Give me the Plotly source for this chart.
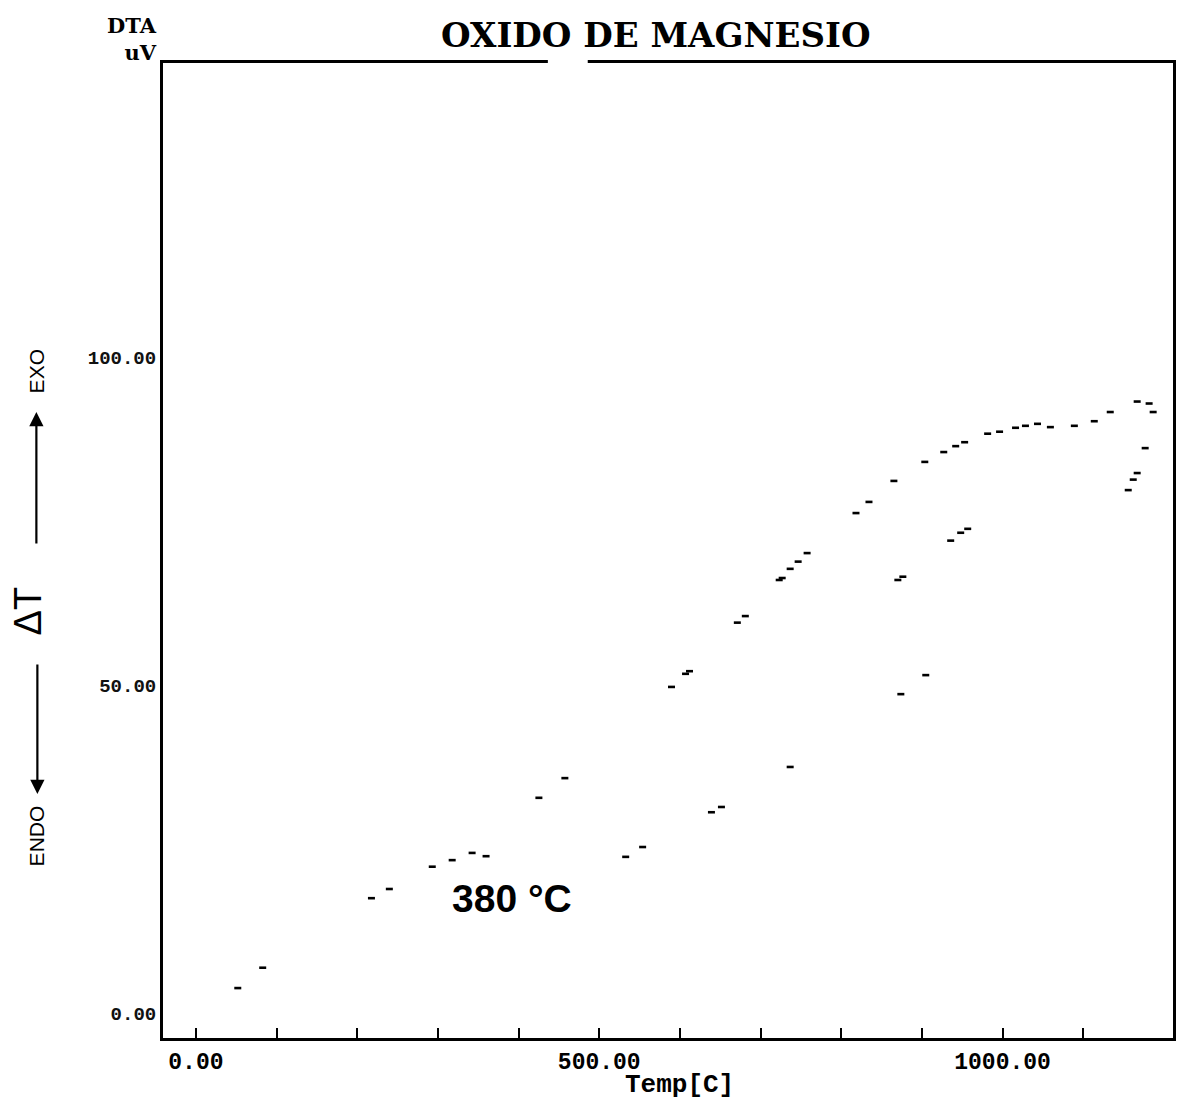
import plotly.graph_objects as go

# ---- data (Temp in C, DTA in uV) ----
heat_temp = [51.9, 82.8, 217.6, 239.8, 293.0, 317.7, 342.4, 359.7, 425.2, 457.4,
             589.6, 607.0, 611.9, 671.2, 681.1, 723.1, 726.8, 736.7, 746.6, 757.7,
             818.3, 834.4, 865.3, 903.6, 927.1, 941.9, 953.0, 981.5, 996.3, 1016.1,
             1028.4, 1043.3, 1059.3, 1089.0, 1113.7, 1133.5, 1166.9, 1181.7, 1186.7,
             1176.8, 1166.9, 1162.0, 1155.8]
heat_dta = [3.8, 6.9, 17.5, 18.9, 22.3, 23.3, 24.4, 23.9, 32.8, 35.8,
            49.7, 51.7, 52.1, 59.5, 60.5, 66.0, 66.3, 67.7, 68.8, 70.1,
            76.2, 77.9, 81.1, 84.0, 85.5, 86.4, 87.0, 88.3, 88.6, 89.2,
            89.5, 89.8, 89.3, 89.5, 90.2, 91.6, 93.2, 92.9, 91.6,
            86.1, 82.3, 81.3, 79.7]

cool_temp = [532.8, 553.8, 639.1, 651.5, 736.7, 873.9, 904.8, 870.2, 876.4, 935.7, 948.1, 956.8]
cool_dta = [23.8, 25.3, 30.6, 31.4, 37.5, 48.6, 51.5, 66.0, 66.5, 72.0, 73.2, 73.8]

x_tick_vals = [0, 100, 200, 300, 400, 500, 600, 700, 800, 900, 1000, 1100]
x_tick_text = ["0.00", "", "", "", "", "500.00", "", "", "", "", "1000.00", ""]
y_tick_vals = [0, 50, 100]
y_tick_text = ["0.00", "50.00", "100.00"]

peak_label = "380 °C"
peak_temp = 392
peak_dta = 17.5

# page has an 8px body margin; work in page pixels, convert to figure pixels
OFF = 8
W, H = 1170, 1093
RIGHT_PAGE = 1176
L = 163 - OFF
T = 63 - OFF
R = W - (RIGHT_PAGE - OFF)
B = H - (1038 - OFF)
PW, PH = W - L - R, H - T - B


def px(xp):
    return (xp - OFF - L) / PW


def py(yp):
    return (H - B - (yp - OFF)) / PH


fig = go.Figure()
mk = dict(symbol="line-ew", size=5, color="black", line=dict(color="black", width=2.6))
fig.add_trace(go.Scatter(x=heat_temp, y=heat_dta, mode="markers", marker=mk, showlegend=False))
fig.add_trace(go.Scatter(x=cool_temp, y=cool_dta, mode="markers", marker=mk, showlegend=False))

fig.update_layout(
    width=W, height=H,
    margin=dict(l=L, r=R, t=T, b=B),
    paper_bgcolor="white", plot_bgcolor="white",
    showlegend=False,
)

fig.update_xaxes(
    range=[-40.8, 1211.3], showgrid=False, zeroline=False,
    showline=True, linecolor="black", linewidth=3, mirror=True,
    tickvals=x_tick_vals, ticktext=x_tick_text,
    ticks="inside", ticklen=10, tickwidth=2, tickcolor="black",
    tickfont=dict(family="Liberation Mono", size=23, color="black", weight="bold"),
)
fig.update_yaxes(
    range=[-3.81, 144.8], showgrid=False, zeroline=False,
    showline=True, linecolor="black", linewidth=3, mirror=True,
    tickvals=y_tick_vals, ticktext=y_tick_text, ticks="",
    tickfont=dict(family="Liberation Mono", size=19, color="#111", weight="bold"),
)

ann = []
# Title
ann.append(dict(text="OXIDO DE MAGNESIO", xref="paper", yref="paper", x=px(657), y=py(35),
                showarrow=False, xanchor="center", yanchor="middle",
                font=dict(family="DejaVu Serif", size=34, color="black", weight="bold")))
# DTA / uV
ann.append(dict(text="DTA<br>uV", xref="paper", yref="paper", x=px(158), y=py(39),
                showarrow=False, xanchor="right", yanchor="middle", align="right", borderpad=0,
                font=dict(family="DejaVu Serif", size=21, color="black", weight="bold")))
# Temp[C]
ann.append(dict(text="Temp[C]", xref="paper", yref="paper", x=px(681), y=py(1085),
                showarrow=False, xanchor="center", yanchor="middle",
                font=dict(family="Liberation Mono", size=26, color="black", weight="bold")))
# peak label
ann.append(dict(text=peak_label, xref="x", yref="y", x=peak_temp, y=peak_dta,
                showarrow=False, xanchor="center", yanchor="middle",
                font=dict(family="Liberation Sans Narrow, Liberation Sans", size=39,
                          color="black", weight="bold")))
# Left side labels
ann.append(dict(text="EXO", xref="paper", yref="paper", x=px(36), y=py(371), textangle=-90,
                showarrow=False, xanchor="center", yanchor="middle",
                font=dict(family="Liberation Sans", size=21, color="black")))
ann.append(dict(text="ΔT", xref="paper", yref="paper", x=px(28), y=py(611), textangle=-90,
                showarrow=False, xanchor="center", yanchor="middle",
                font=dict(family="Liberation Sans", size=38, color="black")))
ann.append(dict(text="ENDO", xref="paper", yref="paper", x=px(36), y=py(836), textangle=-90,
                showarrow=False, xanchor="center", yanchor="middle",
                font=dict(family="Liberation Sans", size=21, color="black")))
# Arrows
ann.append(dict(text="", xref="paper", yref="paper", x=px(36), y=py(412), ax=0, ay=133,
                showarrow=True, arrowhead=2, arrowsize=1.3, arrowwidth=2.2, arrowcolor="black"))
ann.append(dict(text="", xref="paper", yref="paper", x=px(37), y=py(794), ax=0, ay=-131,
                showarrow=True, arrowhead=2, arrowsize=1.3, arrowwidth=2.2, arrowcolor="black"))
fig.update_layout(annotations=ann)

# gap in the scanned top border
fig.add_shape(type="rect", xref="paper", yref="paper", x0=px(549), x1=px(589),
              y0=py(60), y1=py(67), fillcolor="white", line=dict(width=0), layer="above")

fig.write_html("out.html")
